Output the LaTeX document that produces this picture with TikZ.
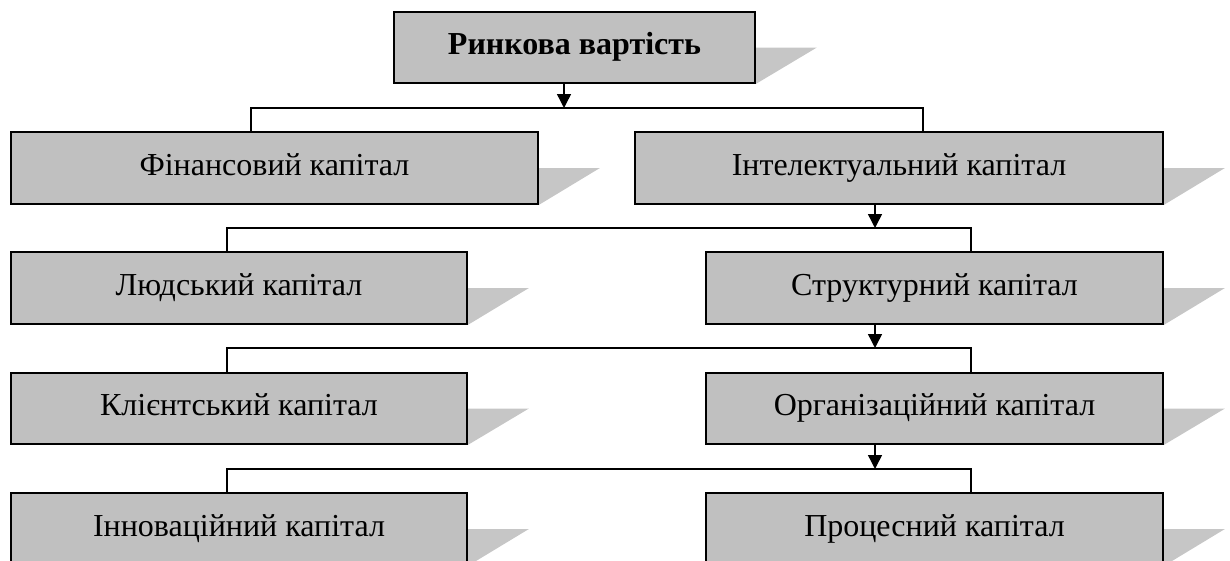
\documentclass[tikz,border=0pt]{standalone}
\usepackage{fontspec}
\setmainfont{Liberation Serif}
\usetikzlibrary{arrows.meta,backgrounds}
\definecolor{boxgray}{RGB}{192,192,192}
\definecolor{shadowgray}{RGB}{198,198,198}
\tikzset{
  capbox/.style={draw=black, line width=1.8pt, fill=boxgray, rectangle, inner sep=0pt,
    minimum height=72pt, text height=22pt, text depth=8pt, font=\fontsize{32}{36}\selectfont},
  link/.style={line width=1.4pt},
  arr/.style={line width=1.4pt, -{Triangle[length=14pt,width=14pt]}},
  shade/.style={fill=shadowgray, draw=none}
}
\newcommand{\boxshadow}[1]{\fill[shade] (#1.east) -- ++(61pt,0) -- (#1.south east) -- cycle;}
\begin{document}
\begin{tikzpicture}[x=1pt,y=-1pt]
\path[use as bounding box] (0,0) rectangle (1230,560);
\clip (0,0) rectangle (1230,560);
\node[capbox, minimum width=361pt, minimum height=71pt, font=\fontsize{32}{36}\selectfont\bfseries] (top) at (574.5,47.5) {Ринкова вартість};
\node[capbox, minimum width=527pt] (fin) at (274.5,168) {Фінансовий капітал};
\node[capbox, minimum width=528pt] (int) at (899,168) {Інтелектуальний капітал};
\node[capbox, minimum width=456pt] (lud) at (239,288) {Людський капітал};
\node[capbox, minimum width=457pt] (str) at (934.5,288) {Структурний капітал};
\node[capbox, minimum width=456pt, minimum height=71pt] (kli) at (239,408.5) {Клієнтський капітал};
\node[capbox, minimum width=457pt, minimum height=71pt] (org) at (934.5,408.5) {Організаційний капітал};
\node[capbox, minimum width=456pt] (inn) at (239,529) {Інноваційний капітал};
\node[capbox, minimum width=457pt] (pro) at (934.5,529) {Процесний капітал};
\begin{scope}[on background layer]
\boxshadow{top}
\boxshadow{fin}
\boxshadow{int}
\boxshadow{lud}
\boxshadow{str}
\boxshadow{kli}
\boxshadow{org}
\boxshadow{inn}
\boxshadow{pro}
\end{scope}
% bus coordinates
\coordinate (a1) at (564,108);
\coordinate (l1) at (251,108);
\coordinate (r1) at (923,108);
\coordinate (a2) at (875,228);
\coordinate (l2) at (227,228);
\coordinate (r2) at (971,228);
\coordinate (a3) at (875,348);
\coordinate (l3) at (227,348);
\coordinate (r3) at (971,348);
\coordinate (a4) at (875,469);
\coordinate (l4) at (227,469);
\coordinate (r4) at (971,469);
\draw[link] (l1 |- fin.north) -- (l1) -- (r1) -- (r1 |- int.north);
\draw[arr] (a1 |- top.south) -- (a1);
\draw[link] (l2 |- lud.north) -- (l2) -- (r2) -- (r2 |- str.north);
\draw[arr] (a2 |- int.south) -- (a2);
\draw[link] (l3 |- kli.north) -- (l3) -- (r3) -- (r3 |- org.north);
\draw[arr] (a3 |- str.south) -- (a3);
\draw[link] (l4 |- inn.north) -- (l4) -- (r4) -- (r4 |- pro.north);
\draw[arr] (a4 |- org.south) -- (a4);
\end{tikzpicture}
\end{document}
